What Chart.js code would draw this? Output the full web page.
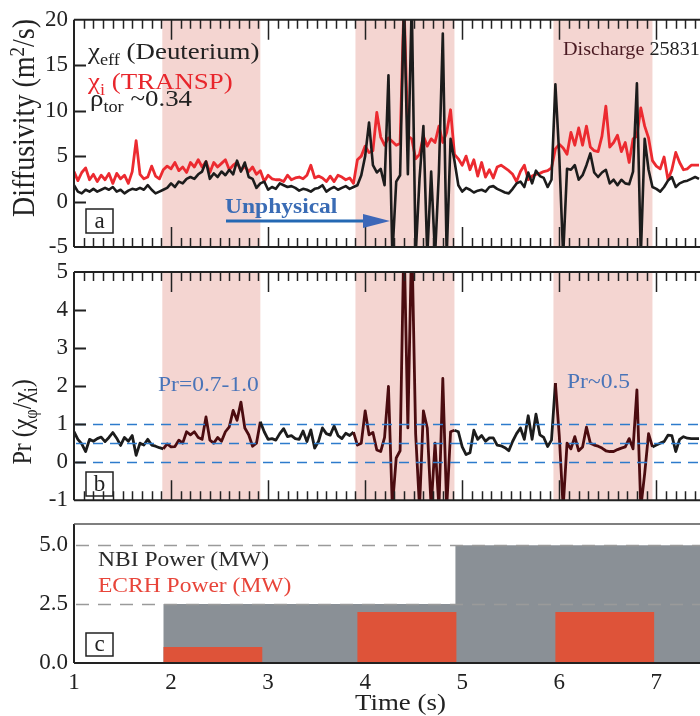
<!DOCTYPE html>
<html>
<head>
<meta charset="utf-8">
<script src="https://cdn.jsdelivr.net/npm/chart.js@4.4.1/dist/chart.umd.min.js"></script>
<style>
  html, body { margin: 0; padding: 0; background: #fff; }
  #wrap { position: relative; width: 700px; height: 716px; overflow: hidden; }
  #wrap canvas { position: absolute; left: 0; }
</style>
</head>
<body>
<div id="wrap">
  <canvas id="cA" width="700" height="270" style="top:0px"></canvas>
  <canvas id="cB" width="700" height="270" style="top:250px"></canvas>
  <canvas id="cC" width="700" height="216" style="top:500px"></canvas>
</div>
<script>
// sampling grid of the time traces (s)
const t0 = 1.0, dt = 0.04;

// chi_eff (Deuterium), m^2/s
const chiEff = [
  1.8,1.1,0.9,1.3,1.1,1.4,1.1,1.3,1.5,1.3, 1.6,1.1,1.3,0.9,1.2,1.4,1.3,1.5,1.3,1.8,
  1.3,0.9,1.1,1.3,1.5,2.0,1.6,2.2,2.0,2.5, 2.7,2.5,3.0,3.3,4.4,2.5,3.1,2.7,3.3,2.9,
  3.5,3.0,4.5,3.3,4.3,2.7,2.5,1.5,2.0,2.2, 1.3,1.6,1.4,2.0,1.8,
  1.6,1.7,1.5,1.2,1.4,1.3,1.1,1.4,1.5,1.8, 1.1,1.4,1.6,1.3,1.5,1.7,1.4,1.6,
  1.8,2.9,5.0,8.7,4.0,3.2,3.6,1.8,13.9,-6, 2.2,2.9,22,3.0,22,-6,2.5,8.3,-6,3.3,
  -6,3.3,18.5,-6,6.9,
  4.5,1.8,1.1,1.5,1.3,1.0,1.2,1.3,1.1,1.6,
  1.7,1.4,1.2,1.0,0.9,1.4,2.0,2.2,1.6,3.2, 2.0,3.4,2.8,2.6,1.6,2.4,12.9,5.0,-6,3.6,
  3.5,4.0,2.4,2.9,4.0,5.3,3.2,2.7,3.2,3.5, 2.0,2.4,1.8,2.4,2.0,1.9,3.3,13.0,-6,6.9,
  3.5,1.6,1.4,1.1,1.6,2.3,2.7,1.6,2.0,2.2, 2.3,2.5,2.7,2.5
];

// chi_i (TRANSP), m^2/s
const chiI = [
  3.3,2.3,3.2,3.7,2.4,3.0,2.2,2.9,2.4,3.1, 2.0,3.1,2.5,2.9,2.0,3.3,6.7,3.0,2.5,2.7,
  3.9,2.8,2.5,3.5,3.9,3.6,4.3,3.4,3.8,3.2, 4.3,3.8,4.6,3.8,4.4,3.2,4.3,3.8,4.2,4.6,
  3.5,4.0,4.3,3.4,3.9,3.3,3.8,3.0,3.4,2.2, 2.9,2.5,2.4,2.4,2.2,
  2.9,2.4,2.6,2.7,2.5,2.9,4.0,2.6,2.8,2.6, 2.2,2.8,2.2,2.9,2.7,2.4,2.6,
  2.0,4.6,5.0,6.1,5.4,5.6,9.8,7.1,6.2,7.0, 6.6,6.2,6.4,22,7.2,6.9,4.7,5.2,7.2,6.1,
  6.9,6.5,8.3,6.5,7.6,10.1,
  5.2,4.7,4.0,5.0,3.5,4.6,2.8,4.3,2.7,3.5,
  2.6,3.8,4.0,3.7,3.4,3.0,2.2,3.3,4.0,2.4, 2.8,3.0,3.1,3.3,3.4,3.7,5.8,6.3,5.9,5.2,
  7.6,6.2,8.1,6.2,8.3,6.0,5.6,5.5,7.2,10.5, 6.0,6.5,7.3,5.5,6.5,4.3,6.9,7.2,10.3,8.3,
  7.0,4.5,3.9,3.6,4.9,2.4,3.5,5.4,4.3,3.5, 3.6,4.0,4.0,4.0
];

// Prandtl number chi_phi / chi_i
const prandtl = [
  0.80,0.60,0.48,0.28,0.60,0.55,0.62,0.66,0.54,0.65, 0.78,0.63,0.44,0.65,0.55,0.70,0.18,0.50,0.45,0.60,
  0.45,0.42,0.38,0.35,0.48,0.40,0.41,0.58,0.50,0.80, 0.72,0.80,0.65,0.60,1.19,0.58,0.50,0.65,0.55,0.80,
  0.93,1.36,1.10,1.58,0.90,0.72,0.42,0.50,1.06,0.80, 0.60,0.62,0.58,0.75,0.88,
  0.67,0.70,0.62,0.60,0.82,0.54,0.85,0.37,0.55,0.90, 0.75,0.71,0.95,0.70,0.62,0.76,0.70,0.79,0.45,0.50,
  1.35,0.72,0.78,0.32,0.28,0.65,1.99,-1.2,0.11,0.30, 6,0.9,6,0.75,-1.2,1.35,0.9,-1.2,0.5,-1.2,
  2.2,-1.2,0.8,
  0.84,0.80,0.40,0.20,0.25,0.84,0.60,0.70,0.55,0.64,
  0.64,0.45,0.43,0.38,0.30,0.55,0.75,0.90,0.60,1.22, 0.60,1.26,0.72,0.65,0.41,0.58,2.08,0.70,-1.2,0.50,
  0.35,0.67,0.30,0.40,0.92,0.50,0.45,0.42,0.37,0.30, 0.28,0.28,0.33,0.37,0.40,0.62,0.35,1.9,-1.2,-0.3,
  0.75,0.40,0.45,0.50,0.54,0.71,0.70,0.28,0.60,0.67, 0.63,0.62,0.62,0.62
];

// ECRH phases (shaded bands)
const shadeStart = [1.91, 3.90, 5.94];
const shadeEnd = [2.92, 4.92, 6.96];

// heating powers (MW), step traces
const nbiTime = [1.92, 4.93, 7.45];
const nbiPower = [2.5, 5.0, 5.0];
const ecrhTime = [1.92, 2.94, 3.92, 4.94, 5.96, 6.98];
const ecrhPower = [0.68, 0, 2.17, 0, 2.17, 0];

const prRefLines = [1, 0.5, 0];
const powerRefLines = [5.0, 2.5];

const FONT = 'Liberation Serif';
const times = chiEff.map((_, i) => +(t0 + i * dt).toFixed(2));
const pts = arr => arr.map((v, i) => ({ x: times[i], y: v }));
const inShade = v => shadeStart.some((s, k) => v >= s && v <= shadeEnd[k]);

// text with sub/superscripts, slightly widened like the original figure
function drawParts(ctx, parts, x, y, size, color, o = {}) {
  const sx = o.sx || 1.12, sy = o.sy || 1;
  let cx = x;
  parts.forEach(p => {
    const kind = p[1] || '';
    const fs = kind ? size * 0.68 : size;
    const dy = kind === 'sub' ? size * 0.25 : kind === 'sup' ? -size * 0.38 : 0;
    ctx.font = (o.bold ? 'bold ' : '') + fs + 'px "' + FONT + '"';
    ctx.fillStyle = p[2] || color;
    ctx.textAlign = 'left';
    ctx.textBaseline = 'alphabetic';
    ctx.save();
    ctx.translate(cx, y + dy);
    ctx.scale(sx, sy);
    ctx.fillText(p[0], 0, 0);
    ctx.restore();
    cx += ctx.measureText(p[0]).width * sx;
  });
  return cx - x;
}

function partsWidth(ctx, parts, size, sx) {
  let w = 0;
  parts.forEach(p => {
    const fs = p[1] ? size * 0.68 : size;
    ctx.font = fs + 'px "' + FONT + '"';
    w += ctx.measureText(p[0]).width * sx;
  });
  return w;
}

function drawVTitle(ctx, parts, cx, cy, size, color) {
  const w = partsWidth(ctx, parts, size, 1);
  ctx.save();
  ctx.translate(cx, cy);
  ctx.rotate(-Math.PI / 2);
  drawParts(ctx, parts, -w / 2, size * 0.33, size, color, { sx: 1, sy: 1.12 });
  ctx.restore();
}

function labelBox(ctx, letter, x, y, w, h) {
  ctx.strokeStyle = '#222';
  ctx.lineWidth = 1.5;
  ctx.strokeRect(x, y, w, h);
  ctx.font = '23px "' + FONT + '"';
  ctx.fillStyle = '#222';
  ctx.textAlign = 'center';
  ctx.textBaseline = 'alphabetic';
  ctx.fillText(letter, x + w / 2, y + h - 5);
}

function xScale(show) {
  return {
    type: 'linear', min: 1, max: 7.45, display: show,
    afterFit: s => { if (show) s.height = 53; },
    grid: { display: false, drawTicks: false },
    border: { display: false },
    ticks: { stepSize: 1, includeBounds: false, padding: 6, color: '#222', font: { family: FONT, size: 23 } }
  };
}

function yAxis(min, max, step, fmt) {
  const ticks = { stepSize: step, includeBounds: false, padding: 6, color: '#222', font: { family: FONT, size: 23 } };
  if (fmt) ticks.callback = fmt;
  return {
    min, max,
    afterFit: s => { s.width = 74; },
    grid: { display: false, drawTicks: false },
    border: { display: false },
    ticks
  };
}

function panelPlugin(cfg) {
  return {
    id: 'panel' + cfg.name,
    beforeDatasetsDraw(chart) {
      if (!cfg.shade) return;
      const { ctx, chartArea: a, scales: { x } } = chart;
      ctx.save();
      ctx.fillStyle = '#f4d5d1';
      shadeStart.forEach((s, k) => {
        const x0 = x.getPixelForValue(s), x1 = x.getPixelForValue(shadeEnd[k]);
        ctx.fillRect(x0, a.top, x1 - x0, a.bottom - a.top);
      });
      ctx.restore();
    },
    afterDatasetsDraw(chart) {
      if (!cfg.refLines) return;
      const { ctx, chartArea: a, scales: { y } } = chart;
      ctx.save();
      ctx.strokeStyle = cfg.refColor;
      ctx.lineWidth = 1.6;
      ctx.setLineDash(cfg.refDash);
      cfg.refLines.forEach(v => {
        const py = Math.round(y.getPixelForValue(v)) + 0.5;
        ctx.beginPath();
        ctx.moveTo(a.left + 2, py);
        ctx.lineTo(a.right, py);
        ctx.stroke();
      });
      ctx.restore();
    },
    afterDraw(chart) {
      const { ctx, chartArea: a, scales: { x, y } } = chart;
      ctx.save();
      ctx.strokeStyle = '#222';
      ctx.lineWidth = 2;
      ctx.beginPath();
      ctx.moveTo(a.left, a.top); ctx.lineTo(a.left, a.bottom);
      ctx.moveTo(a.left, a.bottom); ctx.lineTo(a.right, a.bottom);
      ctx.stroke();
      ctx.beginPath();
      ctx.strokeStyle = cfg.topColor || '#222';
      ctx.lineWidth = cfg.topWidth || 2;
      ctx.moveTo(a.left, a.top); ctx.lineTo(a.right, a.top);
      ctx.stroke();
      if (cfg.timeTicks) {
        ctx.strokeStyle = '#222';
        ctx.lineWidth = 1.5;
        ctx.beginPath();
        for (let k = 11; k <= 74; k++) {
          const px = Math.round(x.getPixelForValue(k / 10)) + 0.5;
          const len = k % 10 === 0 ? 20 : 9;
          ctx.moveTo(px, a.top); ctx.lineTo(px, a.top + len);
          ctx.moveTo(px, a.bottom); ctx.lineTo(px, a.bottom - len);
        }
        ctx.stroke();
      }
      if (cfg.yTicks) {
        ctx.beginPath();
        ctx.lineWidth = 1.8;
        cfg.yTicks.forEach(v => {
          const py = Math.round(y.getPixelForValue(v)) + 0.5;
          ctx.moveTo(a.left, py); ctx.lineTo(a.left + 12, py);
        });
        ctx.stroke();
      }
      ctx.translate(0, -cfg.offset);
      cfg.texts(ctx);
      ctx.restore();
    }
  };
}

const baseOpts = (padding, scales) => ({
  responsive: false,
  animation: false,
  layout: { padding },
  scales,
  plugins: { legend: { display: false }, tooltip: { enabled: false } }
});

// (a) diffusivities
new Chart(document.getElementById('cA'), {
  type: 'line',
  data: {
    datasets: [
      { label: 'chi_eff', data: pts(chiEff), borderColor: '#1c1c1c', borderWidth: 2.6,
        pointRadius: 0, tension: 0, clip: 0, borderJoinStyle: 'round' },
      { label: 'chi_i', data: pts(chiI), borderColor: '#ec2a30', borderWidth: 2.8,
        pointRadius: 0, tension: 0, clip: 0, borderJoinStyle: 'round' }
    ]
  },
  options: baseOpts({ top: 15, bottom: 23, left: 0, right: 0 }, { x: xScale(false), y: yAxis(-5, 20, 5) }),
  plugins: [panelPlugin({
    name: 'A', offset: 0, shade: true, timeTicks: true, yTicks: [15, 10, 5, 0],
    texts(ctx) {
      drawVTitle(ctx, [['Diffusivity (m'], ['2', 'sup'], ['/s)']], 25, 118, 28, '#222');
      drawParts(ctx, [['χ'], ['eff', 'sub'], [' (Deuterium)']], 88, 59, 24, '#222');
      drawParts(ctx, [['χ'], ['i', 'sub'], [' (TRANSP)']], 88, 89, 24, '#e8262c');
      drawParts(ctx, [['ρ'], ['tor', 'sub'], [' ~0.34']], 90, 106, 24, '#222');
      drawParts(ctx, [['Discharge', '', '#4a1a22'], [' 25831']], 563, 55, 18, '#222');
      drawParts(ctx, [['Unphysical']], 225, 213, 21, '#3a6cb5', { bold: true });
      ctx.strokeStyle = '#2468b3';
      ctx.lineWidth = 3;
      ctx.beginPath(); ctx.moveTo(226, 221); ctx.lineTo(368, 221); ctx.stroke();
      ctx.fillStyle = '#3d67b8';
      ctx.beginPath(); ctx.moveTo(363, 214); ctx.lineTo(390, 221); ctx.lineTo(363, 228); ctx.closePath(); ctx.fill();
      labelBox(ctx, 'a', 86, 209, 27, 24);
    }
  })]
});

// (b) Prandtl number
new Chart(document.getElementById('cB'), {
  type: 'line',
  data: {
    datasets: [
      { label: 'Pr', data: pts(prandtl), borderWidth: 2.8, pointRadius: 0, tension: 0, clip: 0,
        borderJoinStyle: 'round', borderColor: '#1c1c1c',
        segment: { borderColor: c => inShade((c.p0.parsed.x + c.p1.parsed.x) / 2) ? '#4b0c10' : '#1c1c1c' } }
    ]
  },
  options: baseOpts({ top: 22, bottom: 15, left: 0, right: 0 }, { x: xScale(false), y: yAxis(-1, 5, 1) }),
  plugins: [panelPlugin({
    name: 'B', offset: 250, shade: true, timeTicks: true, yTicks: [4, 3, 2, 1, 0],
    refLines: prRefLines, refColor: '#2d7bcc', refDash: [10, 7],
    texts(ctx) {
      drawVTitle(ctx, [['Pr ('], ['χ'], ['φ', 'sub'], ['/'], ['χ'], ['i', 'sub'], [')']], 23, 422, 24, '#222');
      drawParts(ctx, [['Pr=0.7-1.0']], 158, 391, 21, '#4a74b8');
      drawParts(ctx, [['Pr~0.5']], 567, 388, 21, '#4a74b8');
      labelBox(ctx, 'b', 86, 472, 27, 24);
    }
  })]
});

// (c) heating power
new Chart(document.getElementById('cC'), {
  type: 'line',
  data: {
    datasets: [
      { label: 'ECRH', data: ecrhTime.map((t, i) => ({ x: t, y: ecrhPower[i] })), stepped: true,
        fill: 'origin', backgroundColor: '#de5339', borderColor: 'rgba(0,0,0,0)', borderWidth: 0, pointRadius: 0 },
      { label: 'NBI', data: nbiTime.map((t, i) => ({ x: t, y: nbiPower[i] })), stepped: true,
        fill: 'origin', backgroundColor: '#8a9096', borderColor: 'rgba(0,0,0,0)', borderWidth: 0, pointRadius: 0 }
    ]
  },
  options: baseOpts({ top: 24, bottom: 0, left: 0, right: 0 },
    { x: xScale(true), y: yAxis(0, 5.9, 2.5, v => v.toFixed(1)) }),
  plugins: [panelPlugin({
    name: 'C', offset: 500, topColor: '#555', topWidth: 1.5,
    refLines: powerRefLines, refColor: '#9a9a9a', refDash: [13, 9],
    texts(ctx) {
      drawParts(ctx, [['NBI Power (MW)']], 98, 566, 21, '#2a2a2a');
      drawParts(ctx, [['ECRH Power (MW)']], 98, 592, 21, '#e8453a');
      labelBox(ctx, 'c', 86, 633, 27, 23);
      drawParts(ctx, [['Time (s)']], 355, 710, 24, '#222');
    }
  })]
});
</script>
</body>
</html>
